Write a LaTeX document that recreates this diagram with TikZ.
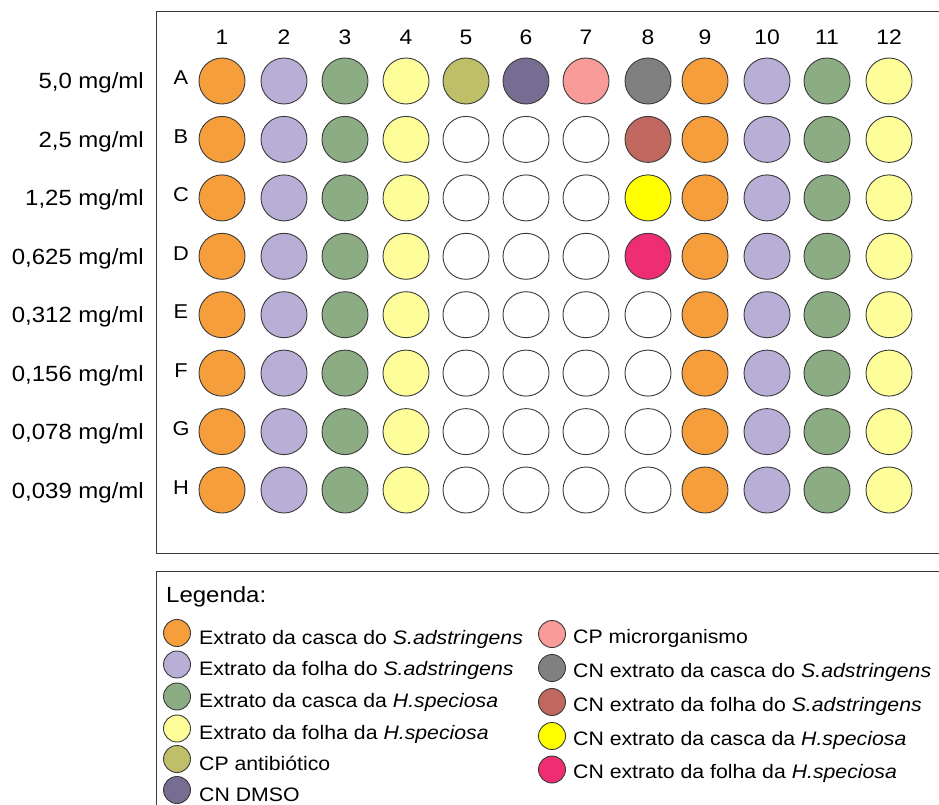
\documentclass[tikz,border=0pt]{standalone}
\usepackage{fontspec}
\setmainfont[FakeStretch=1.09]{Liberation Sans}
\definecolor{corange}{HTML}{F79E3C}
\definecolor{clav}{HTML}{B9AED6}
\definecolor{cgreen}{HTML}{8CAD84}
\definecolor{clyel}{HTML}{FDFD99}
\definecolor{colive}{HTML}{BFBF6A}
\definecolor{cdpurp}{HTML}{776C91}
\definecolor{cpink}{HTML}{F99B98}
\definecolor{cgray}{HTML}{808080}
\definecolor{cbrick}{HTML}{C0685F}
\definecolor{cyel}{HTML}{FFFF00}
\definecolor{cmag}{HTML}{EE2D72}
\definecolor{cline}{HTML}{3A3A3A}
\tikzset{
  well/.style={circle,draw=cline,line width=0.9pt,minimum size=46pt,inner sep=0pt},
  lwell/.style={circle,draw=cline,line width=0.9pt,minimum size=27pt,inner sep=0pt},
  frame/.style={draw=cline,line width=1pt},
  collab/.style={font=\fontsize{21}{24}\selectfont,anchor=base,inner sep=0pt},
  rowlab/.style={font=\fontsize{20}{24}\selectfont,anchor=base,inner sep=0pt},
  conclab/.style={font=\fontsize{22}{24}\selectfont,anchor=base east,inner sep=0pt},
  legtitle/.style={font=\fontsize{22}{24}\selectfont,anchor=base west,inner sep=0pt},
  legtext/.style={font=\fontsize{19.5}{22}\selectfont,anchor=base west,inner sep=0pt},
}
\begin{document}
\begin{tikzpicture}[x=1pt,y=-1pt]
\useasboundingbox[fill=white] (0,0) rectangle (939,805);
\clip (0,0) rectangle (939,805);
% plate frame
\draw[frame] (960,12) -- (156,12) -- (156,553) -- (960,553);
% legend frame
\draw[frame] (960,571) -- (156,571) -- (156,820);
% column numbers
\foreach \c/\x in {1/222,2/284,3/345,4/406,5/466,6/526,7/586,8/648,9/705,10/767,11/827,12/889}
  \node[collab] (col\c) at (\x,45) {\c};
% rows
\foreach \r/\y/\conc/\cv/\cvi/\cvii/\cviii in {
  A/81/{5,0}/colive/cdpurp/cpink/cgray,
  B/139.4/{2,5}/white/white/white/cbrick,
  C/197.9/{1,25}/white/white/white/cyel,
  D/256.3/{0,625}/white/white/white/cmag,
  E/314.7/{0,312}/white/white/white/white,
  F/373.1/{0,156}/white/white/white/white,
  G/431.6/{0,078}/white/white/white/white,
  H/490/{0,039}/white/white/white/white}{
  \node[conclab] (conc\r) at (144,\y+8) {\conc{} mg/ml};
  \node[rowlab] (row\r) at (181,\y+4) {\r};
  \node[well,fill=corange] (w\r1) at (222,\y) {};
  \node[well,fill=clav] (w\r2) at (284,\y) {};
  \node[well,fill=cgreen] (w\r3) at (345,\y) {};
  \node[well,fill=clyel] (w\r4) at (406,\y) {};
  \node[well,fill=\cv] (w\r5) at (466,\y) {};
  \node[well,fill=\cvi] (w\r6) at (526,\y) {};
  \node[well,fill=\cvii] (w\r7) at (586,\y) {};
  \node[well,fill=\cviii] (w\r8) at (648,\y) {};
  \node[well,fill=corange] (w\r9) at (705,\y) {};
  \node[well,fill=clav] (w\r10) at (767,\y) {};
  \node[well,fill=cgreen] (w\r11) at (827,\y) {};
  \node[well,fill=clyel] (w\r12) at (889,\y) {};
}
% legend
\node[legtitle] (legtitle) at (166,602) {Legenda:};
\foreach \i/\y/\col/\txt in {
  1/633/corange/{Extrato da casca do \textit{S.adstringens}},
  2/664.5/clav/{Extrato da folha do \textit{S.adstringens}},
  3/696.5/cgreen/{Extrato da casca da \textit{H.speciosa}},
  4/728.5/clyel/{Extrato da folha da \textit{H.speciosa}},
  5/759/colive/{CP antibiótico},
  6/790/cdpurp/{CN DMSO}}{
  \node[lwell,fill=\col] (lc\i) at (177,\y) {};
  \node[legtext] (lt\i) at (199,\y+11) {\txt};
}
\foreach \i/\y/\col/\txt in {
  7/634/cpink/{CP microrganismo},
  8/668/cgray/{CN extrato da casca do \textit{S.adstringens}},
  9/702/cbrick/{CN extrato da folha do \textit{S.adstringens}},
  10/736/cyel/{CN extrato da casca da \textit{H.speciosa}},
  11/769.5/cmag/{CN extrato da folha da \textit{H.speciosa}}}{
  \node[lwell,fill=\col] (lc\i) at (552,\y) {};
  \node[legtext] (lt\i) at (573,\y+9) {\txt};
}
\end{tikzpicture}
\end{document}
